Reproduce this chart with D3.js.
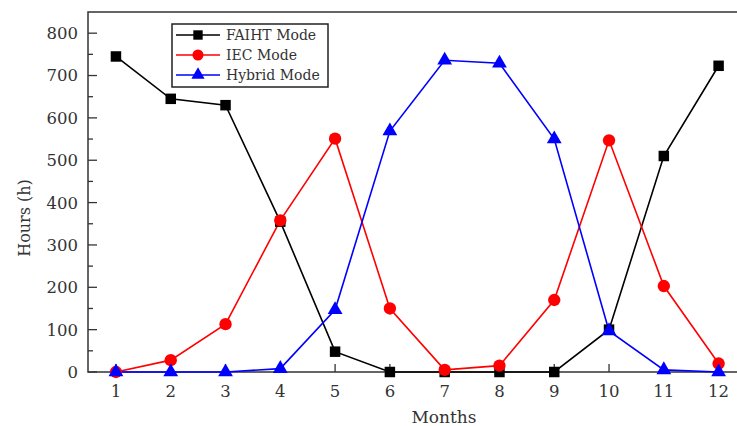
<!DOCTYPE html>
<html>
<head>
<meta charset="utf-8">
<script src="https://cdn.jsdelivr.net/npm/d3@7"></script>
<style>
  body { margin: 0; background: #fff; }
  text { font-family: "DejaVu Serif", serif; fill: #333; }
</style>
</head>
<body>
<div id="chart"></div>
<script>
// données
const months = [1, 2, 3, 4, 5, 6, 7, 8, 9, 10, 11, 12];
const faiht  = [745, 645, 630, 355, 48, 0, 0, 0, 0, 100, 510, 723];
const iec    = [0, 28, 113, 358, 551, 150, 5, 15, 170, 547, 203, 20];
const hybrid = [0, 0, 0, 8, 147, 569, 736, 729, 550, 97, 5, 0];
const yTicks = [0, 100, 200, 300, 400, 500, 600, 700, 800];

const width = 737, height = 426;
const plotLeft = 88, plotTop = 12, plotRight = 746, plotBottom = 372;

const svg = d3.select("#chart").append("svg")
  .attr("width", width)
  .attr("height", height);

const x = d3.scaleLinear().domain([0.49, 12.5]).range([plotLeft, plotRight]);
const y = d3.scaleLinear().domain([0, 850]).range([plotBottom, plotTop]);

// cadre (haut, gauche, bas)
svg.append("path")
  .attr("d", `M${plotRight},${plotTop}H${plotLeft}V${plotBottom}H${plotRight}`)
  .attr("fill", "none")
  .attr("stroke", "#333")
  .attr("stroke-width", 1.5);

// axe y : graduations intérieures + mineures
const yAxis = svg.append("g").attr("transform", `translate(${plotLeft},0)`);
yAxis.selectAll(".minor")
  .data(d3.range(50, 850, 100))
  .enter().append("line")
  .attr("x1", 0).attr("x2", 5)
  .attr("y1", d => y(d)).attr("y2", d => y(d))
  .attr("stroke", "#333").attr("stroke-width", 1.3);
yAxis.selectAll(".major")
  .data(yTicks)
  .enter().append("line")
  .attr("x1", 0).attr("x2", 9)
  .attr("y1", d => y(d)).attr("y2", d => y(d))
  .attr("stroke", "#333").attr("stroke-width", 1.3);
yAxis.selectAll("text")
  .data(yTicks)
  .enter().append("text")
  .attr("x", -10)
  .attr("y", d => y(d))
  .attr("dy", "0.36em")
  .attr("text-anchor", "end")
  .attr("font-size", 16.5)
  .text(d => d);

// axe x
const xAxis = svg.append("g").attr("transform", `translate(0,${plotBottom})`);
xAxis.selectAll("line")
  .data(months)
  .enter().append("line")
  .attr("x1", d => x(d)).attr("x2", d => x(d))
  .attr("y1", 0).attr("y2", -8)
  .attr("stroke", "#333").attr("stroke-width", 1.3);
xAxis.selectAll("text")
  .data(months)
  .enter().append("text")
  .attr("x", d => x(d))
  .attr("y", 25)
  .attr("text-anchor", "middle")
  .attr("font-size", 16.5)
  .text(d => d);

svg.append("text")
  .attr("x", 444).attr("y", 423)
  .attr("text-anchor", "middle")
  .attr("font-size", 17)
  .text("Months");

svg.append("text")
  .attr("transform", "translate(30,218) rotate(-90)")
  .attr("text-anchor", "middle")
  .attr("font-size", 16)
  .text("Hours (h)");

const series = [
  { name: "FAIHT Mode", values: faiht, color: "#000", shape: d3.symbolSquare, size: 110 },
  { name: "IEC Mode", values: iec, color: "#ff0000", shape: d3.symbolCircle, size: 120 },
  { name: "Hybrid Mode", values: hybrid, color: "#0000ff", shape: d3.symbolTriangle, size: 95 }
];

const line = d3.line().x((d, i) => x(months[i])).y(d => y(d));

series.forEach(s => {
  svg.append("path")
    .datum(s.values)
    .attr("d", line)
    .attr("fill", "none")
    .attr("stroke", s.color)
    .attr("stroke-width", 1.6);
});
series.forEach(s => {
  svg.append("g").selectAll("path")
    .data(s.values)
    .enter().append("path")
    .attr("transform", (d, i) => `translate(${x(months[i])},${y(d)})`)
    .attr("d", d3.symbol().type(s.shape).size(s.size))
    .attr("fill", s.color);
});

// légende
const legend = svg.append("g").attr("transform", "translate(172,24)");
legend.append("rect")
  .attr("width", 156).attr("height", 63)
  .attr("fill", "#fff")
  .attr("stroke", "#222")
  .attr("stroke-width", 1.5);
series.forEach((s, i) => {
  const g = legend.append("g").attr("transform", `translate(0,${11 + i * 20})`);
  g.append("line")
    .attr("x1", 4).attr("x2", 48)
    .attr("stroke", s.color).attr("stroke-width", 1.6);
  g.append("path")
    .attr("transform", "translate(26,0)")
    .attr("d", d3.symbol().type(s.shape).size(s.size * 0.8))
    .attr("fill", s.color);
  g.append("text")
    .attr("x", 54)
    .attr("dy", "0.36em")
    .attr("font-size", 14)
    .text(s.name);
});
</script>
</body>
</html>
